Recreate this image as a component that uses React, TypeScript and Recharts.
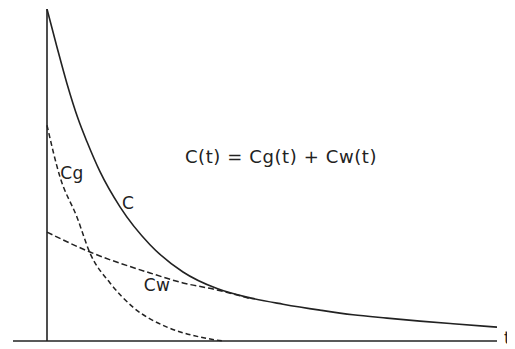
import React from "react";
import { LineChart, Line, XAxis, YAxis, ReferenceLine, ReferenceDot } from "recharts";

// time (arbitrary units) and concentrations (percent of peak)
const cT = [0, 1.0, 2.0, 3.1, 4.0, 5.3, 7.3, 10.3, 13.6, 17.0, 20.3, 23.6, 27.3, 30.6, 34.0, 37.3, 40.6, 45.0];
const cVal = [100, 88.5, 77.5, 67.0, 60.0, 51.0, 40.4, 29.0, 20.8, 15.8, 13.0, 11.1, 9.3, 7.9, 6.9, 6.0, 5.2, 4.2];

const cgT = [0, 1.3, 3.0, 4.3, 6.3, 8.6, 12.0, 15.3, 17.6];
const cgVal = [65, 49.4, 37.3, 26.5, 17.5, 10.2, 4.2, 1.2, 0];

const cwT = [0, 4.3, 10.3, 13.6, 17.0, 20.3];
const cwVal = [32.8, 26.8, 20.5, 17.5, 15.4, 12.8];

const labels = [
  { text: "Cg", t: 2.5, v: 50.6, size: 17 },
  { text: "C", t: 8.1, v: 41.6, size: 17 },
  { text: "Cw", t: 11.0, v: 16.9, size: 17 },
  { text: "C(t) = Cg(t) + Cw(t)", t: 23.4, v: 55.4, size: 18 },
];
const axisLabel = { text: "t", t: 45.7, v: -0.8 };

const toPts = (ts: number[], vs: number[]) => ts.map((t, i) => ({ t, v: vs[i] }));
const cData = toPts(cT, cVal);
const cgData = toPts(cgT, cgVal);
const cwData = toPts(cwT, cwVal);

const INK = "#222";
const FONT = "'DejaVu Sans', sans-serif";

export default function App() {
  return (
    <LineChart
      width={507}
      height={341}
      margin={{ top: 1, right: 0, bottom: 0, left: 5 }}
      style={{ overflow: "visible" }}
    >
      <XAxis type="number" dataKey="t" domain={[-3.4, 46.8]} hide allowDataOverflow />
      <YAxis type="number" dataKey="v" domain={[-2.4, 100]} hide allowDataOverflow />
      <ReferenceLine segment={[{ x: 0, y: 0 }, { x: 0, y: 100 }]} stroke={INK} strokeWidth={1.6} />
      <ReferenceLine segment={[{ x: -3.4, y: 0 }, { x: 45, y: 0 }]} stroke={INK} strokeWidth={1.6} />
      <Line data={cData} dataKey="v" type="monotone" stroke={INK} strokeWidth={1.6} dot={false} isAnimationActive={false} />
      <Line data={cgData} dataKey="v" type="monotone" stroke={INK} strokeWidth={1.5} strokeDasharray="5 3" dot={false} isAnimationActive={false} />
      <Line data={cwData} dataKey="v" type="monotone" stroke={INK} strokeWidth={1.5} strokeDasharray="6 3" dot={false} isAnimationActive={false} />
      {labels.map((l) => (
        <ReferenceDot
          key={l.text}
          x={l.t}
          y={l.v}
          r={0}
          ifOverflow="visible"
          label={{
            value: l.text,
            position: "center",
            fill: INK,
            fontSize: l.size,
            fontFamily: FONT,
            letterSpacing: l.text.length > 3 ? 0.6 : 0.3,
          }}
        />
      ))}
      <ReferenceDot
        x={axisLabel.t}
        y={axisLabel.v}
        r={0}
        ifOverflow="visible"
        label={{ value: axisLabel.text, position: "right", offset: 0, fill: INK, fontSize: 17, fontFamily: FONT, dy: -6 }}
      />
    </LineChart>
  );
}
